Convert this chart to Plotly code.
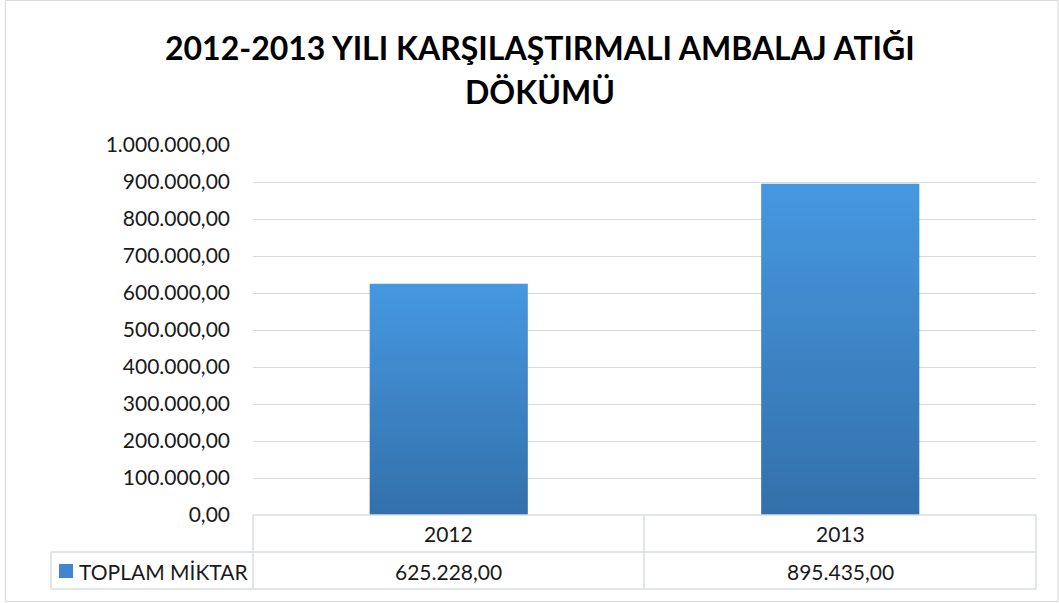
import plotly.graph_objects as go

# ---- data ----
years = ["2012", "2013"]
totals = [625228.00, 895435.00]
series_name = "TOPLAM MİKTAR"
y_ticks = [0, 100000, 200000, 300000, 400000, 500000, 600000, 700000, 800000, 900000, 1000000]
title_lines = ["2012-2013 YILI KARŞILAŞTIRMALI AMBALAJ ATIĞI", "DÖKÜMÜ"]

# ---- layout geometry (pixels) ----
W, H = 1059, 603
L, R, T, B = 253, 1036, 145, 515
FONT = "Lato"
GRID = "#D9D9D9"
LINE = "#D9DDE3"
TXT = "#1a1a1a"
BOTTOM_C, TOP_C = "#3370AB", "#4698E0"
HALF_W = 0.202
FS = 21


def px(x):
    return (x - L) / (R - L)


def py(y):
    return (B - y) / (B - T)


def fmt(v):
    s = f"{v:,.2f}"
    return s.replace(",", "X").replace(".", ",").replace("X", ".")


fig = go.Figure()

for i, v in enumerate(totals):
    fig.add_trace(go.Scatter(
        x=[i - HALF_W, i - HALF_W, i + HALF_W, i + HALF_W, i - HALF_W],
        y=[0, v, v, 0, 0],
        mode="lines",
        line=dict(width=0, color=TOP_C),
        fill="toself",
        fillgradient=dict(type="vertical", colorscale=[[0, BOTTOM_C], [1, TOP_C]]),
        hoverinfo="text",
        text=f"{years[i]}: {fmt(v)}",
        showlegend=False,
    ))

shapes = []
# outer chart border
shapes.append(dict(type="rect", xref="paper", yref="paper",
                   x0=px(5.5), x1=px(1058), y0=py(601.5), y1=py(0.5),
                   line=dict(color=GRID, width=1), layer="below"))
# data table lines
for yy, x0 in [(515, L), (552, 51), (589, 51)]:
    shapes.append(dict(type="line", xref="paper", yref="paper",
                       x0=px(x0), x1=px(R), y0=py(yy), y1=py(yy),
                       line=dict(color=LINE, width=1.5)))
for xx, y0 in [(51, 552), (L, 515), (644, 515), (R, 515)]:
    shapes.append(dict(type="line", xref="paper", yref="paper",
                       x0=px(xx), x1=px(xx), y0=py(y0), y1=py(589),
                       line=dict(color=LINE, width=1.5)))
# legend key in table
shapes.append(dict(type="rect", xref="paper", yref="paper",
                   x0=px(59), x1=px(73), y0=py(578), y1=py(564),
                   fillcolor="#3F86CF", line=dict(color="#3F86CF", width=0)))

annotations = []
# title
for k, (line, ymid) in enumerate(zip(title_lines, [47, 92])):
    annotations.append(dict(text=f"<b>{line}</b>", xref="paper", yref="paper",
                            x=px(540), y=py(ymid), xanchor="center", yanchor="middle",
                            showarrow=False, font=dict(family=FONT, size=32, color="#000000")))
# table header & values
for i, (yr, v) in enumerate(zip(years, totals)):
    annotations.append(dict(text=yr, xref="x", yref="paper", x=i, y=py(533),
                            xanchor="center", yanchor="middle", showarrow=False,
                            font=dict(family=FONT, size=FS, color=TXT)))
    annotations.append(dict(text=fmt(v), xref="x", yref="paper", x=i, y=py(571),
                            xanchor="center", yanchor="middle", showarrow=False,
                            font=dict(family=FONT, size=FS, color=TXT)))
annotations.append(dict(text=series_name, xref="paper", yref="paper", x=px(77), y=py(571),
                        xanchor="left", yanchor="middle", showarrow=False,
                        font=dict(family=FONT, size=FS, color=TXT)))

fig.update_layout(
    width=W, height=H,
    margin=dict(l=L, r=W - R, t=T, b=H - B, pad=0),
    paper_bgcolor="white", plot_bgcolor="white",
    separators=",.",
    showlegend=False,
    shapes=shapes,
    annotations=annotations,
    xaxis=dict(range=[-0.5, 1.5], showticklabels=False, showgrid=False,
               zeroline=False, showline=False, fixedrange=True),
    yaxis=dict(range=[0, 1000000], tickvals=y_ticks, tickformat=",.2f",
               showgrid=True, gridcolor=GRID, gridwidth=1, zeroline=False,
               showline=False, ticks="", ticklabelstandoff=22,
               tickfont=dict(family=FONT, size=FS, color=TXT), fixedrange=True),
)

fig.write_html(
    "out.html",
    config={"displayModeBar": False},
    post_script="document.body.style.margin='0';document.body.style.padding='0';document.body.style.overflow='hidden';",
)
